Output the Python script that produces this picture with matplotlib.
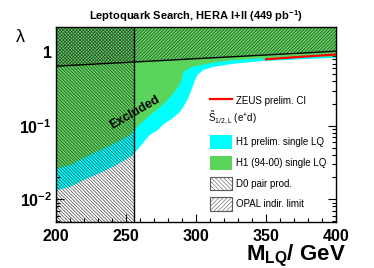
import numpy as np
import matplotlib
matplotlib.use("Agg")
import matplotlib.pyplot as plt
from matplotlib.lines import Line2D
from matplotlib.patches import Patch
from matplotlib.ticker import FixedLocator, FixedFormatter, MultipleLocator, LogLocator, NullFormatter

plt.rcParams['font.family'] = ['Liberation Sans', 'DejaVu Sans']
plt.rcParams['mathtext.fontset'] = 'custom'
plt.rcParams['mathtext.rm'] = 'Liberation Sans'
plt.rcParams['mathtext.it'] = 'Liberation Sans:italic'
plt.rcParams['mathtext.bf'] = 'Liberation Sans:bold'
plt.rcParams['hatch.linewidth'] = 0.4

# ---- data ----
# H1 (94-00) single LQ limit (lower boundary of excluded region)
m_h1old = [200, 210, 224, 239, 253, 258, 267, 276, 284, 289, 291, 297, 304, 312, 326, 346, 375, 400]
lam_h1old = [0.026, 0.029, 0.040, 0.054, 0.074, 0.096, 0.139, 0.19, 0.277, 0.38, 0.54, 0.63, 0.67,
             0.72, 0.78, 0.82, 0.85, 0.88]
# H1 prelim. single LQ limit
m_h1new = [200, 210, 219, 231, 243, 255, 260, 267, 272, 277, 283, 288, 291, 294, 296, 299, 301,
           305, 312, 326, 346, 375, 400]
lam_h1new = [0.0132, 0.0147, 0.018, 0.0226, 0.029, 0.040, 0.052, 0.075, 0.085, 0.105, 0.125, 0.15,
             0.18, 0.23, 0.28, 0.40, 0.49, 0.57, 0.63, 0.69, 0.755, 0.80, 0.84]
# ZEUS prelim. CI
m_zeus = [350, 375, 400]
lam_zeus = [0.80, 0.865, 0.93]
# OPAL indirect limit
m_opal = [200, 400]
lam_opal = [0.645, 1.03]
# D0 pair production mass limit
m_d0 = 256

xticks = [200, 250, 300, 350, 400]
yticks = [0.01, 0.1, 1]
ytick_labels = [r'10$^{\mathbf{-2}}$', r'10$^{\mathbf{-1}}$', '1']

XMIN, XMAX = 200, 400
YMIN, YMAX = 0.0049, 2.2

cyan = '#00ffff'
green = '#5ad45a'

fig = plt.figure(figsize=(3.74, 2.68), dpi=100)
ax = fig.add_axes([56/374, 1-222/268, 280/374, 195/268])
ax.set_xlim(XMIN, XMAX)
ax.set_yscale('log')
ax.set_ylim(YMIN, YMAX)

ax.fill_between(m_h1new, lam_h1new, YMAX, facecolor=cyan, edgecolor='none', zorder=1)
ax.fill_between(m_h1old, lam_h1old, YMAX, facecolor=green, edgecolor='none', zorder=2)

# D0 excluded region
ax.fill_between([XMIN, m_d0], YMIN, YMAX, facecolor='none', edgecolor='#222222',
                hatch='\\' * 10, linewidth=0, zorder=3)
# OPAL excluded region
ax.fill_between(m_opal, lam_opal, YMAX, facecolor='none', edgecolor='#222222',
                hatch='/' * 10, linewidth=0, zorder=3)
ax.plot(m_opal, lam_opal, color='black', lw=1.0, zorder=4)
ax.axvline(m_d0, color='black', lw=1.0, zorder=4)
ax.plot(m_zeus, lam_zeus, color='red', lw=1.6, zorder=5)

ax.text(256.5, 0.150, 'Excluded', rotation=30, ha='center', va='center',
        fontsize=9, fontweight='bold', zorder=6)

# ticks
ax.xaxis.set_major_locator(FixedLocator(xticks))
ax.xaxis.set_minor_locator(MultipleLocator(10))
ax.yaxis.set_major_locator(FixedLocator(yticks))
ax.yaxis.set_major_formatter(FixedFormatter(ytick_labels))
ax.yaxis.set_minor_locator(LogLocator(base=10, subs=np.arange(2, 10)))
ax.yaxis.set_minor_formatter(NullFormatter())
ax.tick_params(which='both', direction='in', top=True, right=True, width=0.8)
ax.tick_params(which='major', length=6)
ax.tick_params(which='minor', length=3)
ax.tick_params(axis='x', which='major', labelsize=11.5, pad=5)
ax.tick_params(axis='y', which='major', labelsize=11.5, pad=3)
for lab in ax.get_xticklabels() + ax.get_yticklabels():
    lab.set_fontweight('bold')
for s in ax.spines.values():
    s.set_linewidth(1.0)
    s.set_zorder(7)

ax.set_title(r'Leptoquark Search, HERA I+II (449 pb$^{\mathbf{-1}}$)', fontsize=8,
             fontweight='bold', pad=5)
fig.text(20/374, 1-38/268, 'λ', fontsize=13, ha='center', va='center')
fig.text(346/374, 1-256/268, r'M$_{\mathbf{LQ}}$/ GeV', fontsize=16, fontweight='bold',
         ha='right', va='center')

handles = [
    Line2D([], [], color='red', lw=1.6),
    Patch(facecolor='none', edgecolor='none'),
    Patch(facecolor=cyan, edgecolor='none'),
    Patch(facecolor=green, edgecolor='none'),
    Patch(facecolor='white', edgecolor='0.35', hatch='\\' * 8, linewidth=0.8),
    Patch(facecolor='white', edgecolor='0.35', hatch='/' * 8, linewidth=0.8),
]
labels = ['ZEUS prelim. CI', ' ', 'H1 prelim. single LQ', 'H1 (94-00) single LQ',
          'D0 pair prod.', 'OPAL indir. limit']
leg = ax.legend(handles, labels, loc='upper left', bbox_to_anchor=(0.549, 0.655),
                frameon=False, fontsize=7, borderpad=0, borderaxespad=0,
                handlelength=2.3, handleheight=1.8, handletextpad=0.45,
                labelspacing=0.7)
leg.set_zorder(8)
ax.text(0.543, 1-(118-27)/195, r'$\mathrm{\tilde{S}_{1/2,L}}$ (e$^{+}$d)', transform=ax.transAxes,
        fontsize=7, ha='left', va='center', zorder=8)

fig.savefig('out.png', dpi=100)
